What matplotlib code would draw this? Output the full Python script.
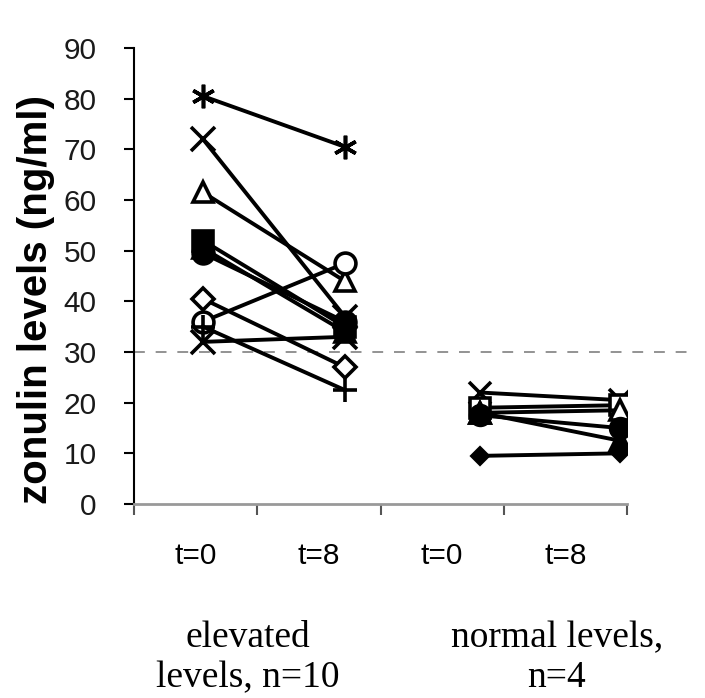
import matplotlib
matplotlib.use("Agg")
import matplotlib.pyplot as plt

# category labels
tick_labels = ["t=0", "t=8", "t=0", "t=8"]
group_labels = ["elevated\nlevels, n=10", "normal levels,\nn=4"]
threshold = 30

# elevated group (n=10): value at t=0, value at t=8
elev_t0 = [80.5, 72.0, 61.5, 52.0, 49.5, 50.5, 40.5, 36.0, 35.0, 32.0]
elev_t8 = [70.5, 37.0, 44.0, 35.0, 36.0, 34.0, 27.0, 47.5, 22.5, 33.0]
elev_markers = [(6, 2, 0), "x", "^", "s", "o", "^", "D", "o", "+", "x"]
elev_filled = [True, True, False, True, True, True, False, False, True, True]

# normal group (n=4)
norm_t0 = [22.0, 19.0, 18.0, 17.5, 18.0, 9.5]
norm_t8 = [20.5, 19.5, 18.5, 15.0, 12.5, 10.0]
norm_markers = ["x", "s", "^", "o", "^", "D"]
norm_filled = [True, False, False, True, True, True]

# where the points sit along the category axis
elev_x = [0.56, 1.71]
norm_x = [2.81, 3.94]

fig = plt.figure(figsize=(7.05, 6.98), dpi=100)
ax = fig.add_axes([134 / 705, 1 - 504 / 698, (627 - 134) / 705, (504 - 48) / 698])


def draw_group(xs, t0, t8, markers, filled, ms_scale=1.0):
    for a, b, m, f in zip(t0, t8, markers, filled):
        ms = 15 * ms_scale
        if m == "D":
            ms = 11.5 * ms_scale if not f else 8.5 * ms_scale
        if m in ("x", "+") or isinstance(m, tuple):
            ms = 17 * ms_scale
        ax.plot(xs, [a, b], color="black", lw=2.8, marker=m, ms=ms, mew=2.6,
                mfc="black" if f else "white", mec="black", zorder=3)


draw_group(elev_x, elev_t0, elev_t8, elev_markers, elev_filled)
draw_group(norm_x, norm_t0, norm_t8, norm_markers, norm_filled, ms_scale=0.95)

# threshold line, runs past the right end of the axis
ax.plot([0, 4.52], [threshold, threshold], ls=(0, (6, 6)), color="#8a8a8a",
        lw=1.3, clip_on=False, zorder=1)

ax.set_xlim(0, 4)
ax.set_ylim(0, 90)
ax.set_yticks(range(0, 91, 10))
ax.set_xticks([0, 1, 2, 3, 4])
ax.set_xticklabels([])
ax.set_xticks([0.5, 1.5, 2.5, 3.5], minor=True)
ax.set_xticklabels(tick_labels, minor=True, fontsize=21.5, family="Liberation Sans")
ax.tick_params(axis="x", which="minor", length=0, pad=27)
ax.tick_params(axis="x", which="major", length=8, width=1.5, color="#555555")
ax.tick_params(axis="y", length=7, width=1.5, pad=20)
for t in ax.get_yticklabels():
    t.set_fontsize(21.5)
    t.set_family("Liberation Sans")
    t.set_color("#1a1a1a")

ax.spines["top"].set_visible(False)
ax.spines["right"].set_visible(False)
ax.spines["left"].set_linewidth(1.5)
ax.spines["bottom"].set_color("#999999")
ax.spines["bottom"].set_linewidth(2)

fig.text(36 / 705, 1 - 300 / 698, "zonulin levels (ng/ml)", rotation=90,
         ha="center", va="center", fontsize=29, fontweight="bold",
         family="Liberation Sans")

fig.text(248 / 705, 1 - 658 / 698, group_labels[0], ha="center", va="center",
         fontsize=27, family="Liberation Serif", linespacing=1.2)
fig.text(557 / 705, 1 - 658 / 698, group_labels[1], ha="center", va="center",
         fontsize=27, family="Liberation Serif", linespacing=1.2)

fig.savefig("out.png", dpi=100)
plt.close(fig)
